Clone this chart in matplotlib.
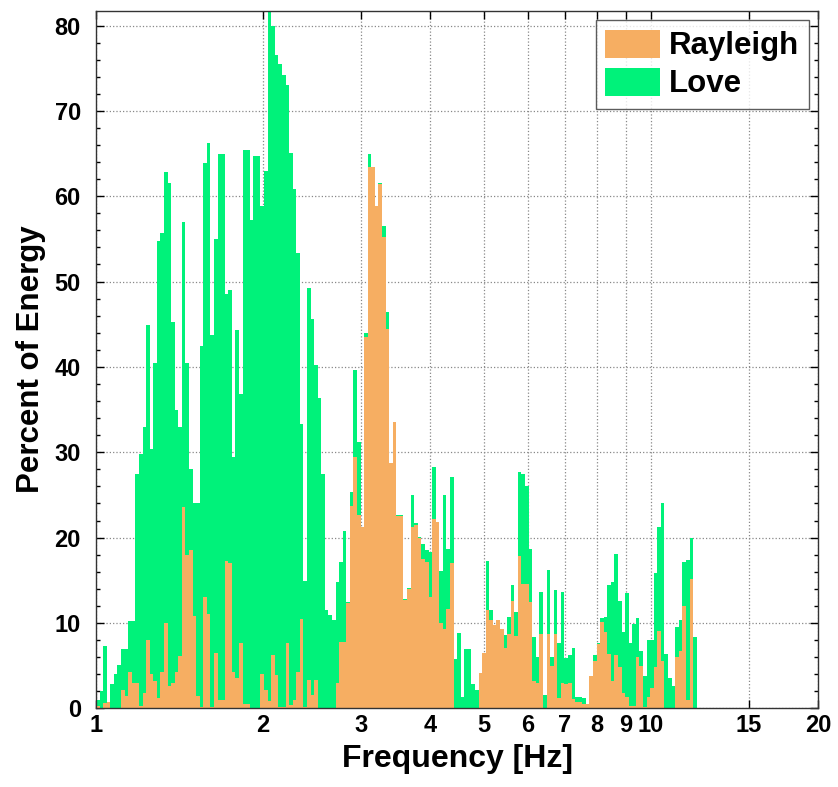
import numpy as np
import matplotlib
matplotlib.use("Agg")
from matplotlib import pyplot as plt

# bin range (log spaced frequency bins)
F_MIN = 1.0
F_MAX = 12.27
N_BINS = 169

# top of the green stack (Rayleigh + Love), percent
total = [1.0, 2.0, 7.3, 0.7, 2.8, 4.0, 5.1, 6.9, 6.9, 10.2,
         10.2, 27.5, 29.8, 33.0, 44.9, 30.4, 40.4, 54.7, 55.7, 62.8,
         61.6, 45.3, 34.9, 33.0, 57.0, 40.4, 28.0, 24.0, 24.0, 42.4,
         63.9, 66.2, 43.7, 55.0, 65.0, 65.0, 48.6, 49.0, 29.5, 44.3,
         36.8, 65.4, 65.4, 57.2, 64.7, 64.7, 58.8, 63.0, 81.7, 80.0,
         76.6, 75.5, 74.2, 73.0, 65.1, 60.9, 53.4, 33.3, 14.9, 49.3,
         45.6, 40.2, 36.4, 27.5, 11.5, 10.9, 10.3, 14.8, 17.1, 20.8,
         12.5, 25.3, 39.6, 31.2, 21.2, 44.0, 64.9, 63.4, 58.9, 61.5,
         56.5, 46.4, 28.8, 33.6, 22.6, 22.6, 12.8, 14.1, 25.0, 21.7,
         20.1, 19.3, 18.6, 18.3, 28.3, 21.8, 16.1, 25.0, 18.7, 27.1,
         5.8, 8.8, 1.3, 6.9, 6.9, 2.8, 2.1, 4.1, 6.5, 17.3,
         11.5, 9.8, 10.4, 9.3, 8.6, 10.7, 14.4, 11.3, 27.7, 27.5,
         26.0, 18.7, 8.3, 6.0, 13.6, 1.6, 16.2, 6.0, 13.9, 7.7,
         13.6, 5.9, 6.2, 7.1, 1.3, 1.3, 1.2, 0.5, 3.8, 6.2,
         7.6, 10.6, 10.7, 14.5, 14.8, 18.1, 12.6, 8.9, 13.5, 7.7,
         9.9, 10.6, 6.7, 3.8, 8.0, 8.0, 15.8, 21.2, 24.1, 6.4,
         3.6, 2.6, 9.5, 10.4, 17.1, 17.4, 20.0, 8.4, 0.0]

rayleigh = [0.3, 0.0, 0.6, 0.7, 0.0, 0.0, 0.0, 2.2, 1.4, 4.2,
            3.0, 3.0, 0.3, 1.8, 8.0, 4.0, 3.2, 1.2, 4.2, 10.0,
            2.6, 3.0, 4.2, 6.1, 23.6, 18.0, 18.6, 10.8, 1.4, 0.2,
            13.0, 11.0, 0.2, 6.5, 1.0, 1.0, 17.3, 17.0, 4.2, 3.6,
            7.7, 0.5, 0.5, 0.0, 0.0, 0.0, 4.0, 2.1, 0.8, 6.2,
            3.9, 0.1, 0.1, 7.6, 0.4, 1.0, 4.3, 10.5, 0.2, 3.3,
            1.6, 3.3, 0.0, 0.0, 0.0, 0.0, 0.0, 3.0, 7.8, 7.8,
            12.3, 23.7, 29.4, 22.7, 21.2, 43.5, 63.4, 63.4, 58.9, 61.4,
            55.2, 44.5, 28.8, 33.5, 22.5, 22.5, 12.7, 14.0, 21.2, 21.5,
            20.0, 17.5, 17.2, 13.0, 22.2, 21.8, 10.0, 9.3, 11.6, 17.0,
            0.0, 0.0, 0.0, 0.0, 0.0, 0.0, 0.0, 4.1, 6.5, 11.5,
            10.4, 9.8, 10.4, 9.3, 7.1, 8.7, 12.6, 8.5, 17.9, 14.6,
            14.6, 12.4, 3.2, 3.0, 8.7, 0.0, 8.7, 5.0, 8.7, 1.2,
            3.0, 2.8, 3.0, 1.1, 0.7, 0.7, 0.5, 0.5, 3.8, 5.6,
            7.5, 10.1, 8.9, 6.4, 3.2, 6.2, 4.8, 1.8, 1.3, 0.3,
            0.3, 6.0, 5.0, 0.2, 1.3, 2.4, 4.8, 9.0, 5.6, 0.0,
            0.0, 0.0, 6.0, 6.7, 12.0, 1.0, 15.1, 0.0, 0.0]

xticks = [1, 2, 3, 4, 5, 6, 7, 8, 9, 10, 15, 20]
yticks = [0, 10, 20, 30, 40, 50, 60, 70, 80]

ORANGE = '#F6AE62'
GREEN = '#00F27A'


def main():
    plt.rcParams['font.family'] = ['Liberation Sans', 'DejaVu Sans']
    plt.rcParams['font.weight'] = 'bold'

    edges = np.logspace(np.log10(F_MIN), np.log10(F_MAX), N_BINS + 1)
    left = edges[:-1]
    width = np.diff(edges)
    ray = np.array(rayleigh)
    love = np.array(total) - ray

    fig = plt.figure(figsize=(8.38, 7.87), dpi=100)
    ax = fig.add_axes([0.1146, 0.1, 0.8615, 0.886])

    ax.bar(left, ray, width=width, align='edge', color=ORANGE,
           linewidth=0, label='Rayleigh', zorder=2)
    ax.bar(left, love, width=width, bottom=ray, align='edge', color=GREEN,
           linewidth=0, label='Love', zorder=2)

    ax.set_xscale('log')
    ax.set_xlim(1, 20)
    ax.set_ylim(0, 81.7)
    ax.set_xticks(xticks)
    ax.set_xticklabels([str(t) for t in xticks])
    ax.xaxis.set_minor_locator(matplotlib.ticker.NullLocator())
    ax.set_yticks(yticks)
    ax.yaxis.set_minor_locator(matplotlib.ticker.MultipleLocator(2))

    ax.grid(True, which='major', linestyle=':', color='#888888', linewidth=0.9, zorder=0)
    ax.set_axisbelow(True)
    ax.tick_params(which='both', direction='in', top=True, right=True,
                   labelsize=17, width=1.0)
    ax.tick_params(which='major', length=6)
    ax.tick_params(axis='y', which='major', pad=11)
    ax.tick_params(axis='x', which='major', pad=4)
    ax.tick_params(which='minor', length=3)
    for lab in ax.get_xticklabels() + ax.get_yticklabels():
        lab.set_fontweight('bold')
    for s in ax.spines.values():
        s.set_linewidth(1.0)
        s.set_color('#333333')

    ax.set_xlabel('Frequency [Hz]', fontsize=23, fontweight='bold', labelpad=5)
    ax.set_ylabel('Percent of Energy', fontsize=22.5, fontweight='bold', labelpad=6)

    leg = ax.legend(loc='upper right', fontsize=22.5, frameon=True, fancybox=False,
                    handlelength=1.75, handleheight=1.0, borderpad=0.3,
                    labelspacing=0.2, handletextpad=0.3, borderaxespad=0.3)
    leg.get_frame().set_edgecolor('#333333')
    leg.get_frame().set_linewidth(1.0)
    for t in leg.get_texts():
        t.set_fontweight('bold')

    fig.savefig('out.png', dpi=100)


if __name__ == "__main__":
    main()
